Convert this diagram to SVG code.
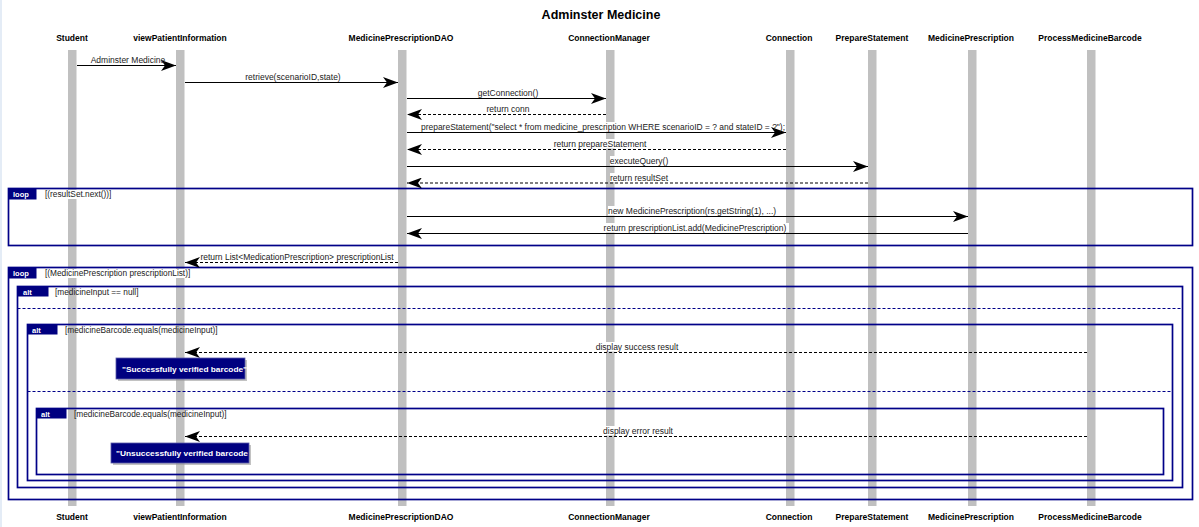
<svg xmlns="http://www.w3.org/2000/svg" width="1199" height="527" viewBox="0 0 1199 527">
<style>
.title{font-family:"Liberation Sans",Arial,sans-serif;font-size:12.5px;font-weight:bold;fill:#000}
.actor{font-family:"Liberation Sans",Arial,sans-serif;font-size:8.5px;font-weight:bold;fill:#000;text-anchor:middle}
.lbl{font-family:"Liberation Sans",Arial,sans-serif;font-size:8.5px;fill:#222;text-anchor:middle}
.guard{font-family:"Liberation Sans",Arial,sans-serif;font-size:8.3px;fill:#222}
.tab{font-family:"Liberation Sans",Arial,sans-serif;font-size:7.5px;font-weight:bold;fill:#fff}
.note{font-family:"Liberation Sans",Arial,sans-serif;font-size:7.4px;font-weight:bold;fill:#fff}
.life{fill:#c0c0c0}
.frame{fill:none;stroke:#000088;stroke-width:1.7}
.sep{fill:none;stroke:#000088;stroke-width:1.2;stroke-dasharray:3,2}
.tabbox{fill:#000080}
.msg{stroke:#000;stroke-width:1.2;fill:none;marker-end:url(#arr)}
.ret{stroke:#000;stroke-width:1.2;fill:none;stroke-dasharray:3,2;marker-end:url(#arr)}
.bg{fill:#fff}
.nbox{fill:#000080;stroke:#5a5aa8;stroke-width:0.8}
.nshadow{fill:#9a9a9a;opacity:0.6}
</style>
<defs>
<marker id="arr" markerUnits="userSpaceOnUse" markerWidth="15" markerHeight="11" refX="15" refY="5.5" orient="auto">
<path d="M0,0 L15,5.5 L0,11 L4,5.5 z" fill="#000"/>
</marker>
</defs>
<rect x="0" y="0" width="1199" height="527" fill="#fff"/>
<rect x="0" y="0" width="2" height="527" fill="#e4ecf6"/>
<text class="title" x="601" y="19" text-anchor="middle">Adminster Medicine</text>

<g id="lifelines">
<g id="Student"><text class="actor" x="72" y="41">Student</text><rect class="life" x="68" y="50" width="8.5" height="456"/><text class="actor" x="72" y="520">Student</text></g>
<g id="viewPatientInformation"><text class="actor" x="180" y="41">viewPatientInformation</text><rect class="life" x="176" y="50" width="8.5" height="456"/><text class="actor" x="180" y="520">viewPatientInformation</text></g>
<g id="MedicinePrescriptionDAO"><text class="actor" x="401" y="41">MedicinePrescriptionDAO</text><rect class="life" x="398" y="50" width="8.5" height="456"/><text class="actor" x="401" y="520">MedicinePrescriptionDAO</text></g>
<g id="ConnectionManager"><text class="actor" x="609" y="41">ConnectionManager</text><rect class="life" x="606" y="50" width="8.5" height="456"/><text class="actor" x="609" y="520">ConnectionManager</text></g>
<g id="Connection"><text class="actor" x="789" y="41">Connection</text><rect class="life" x="786" y="50" width="8.5" height="456"/><text class="actor" x="789" y="520">Connection</text></g>
<g id="PrepareStatement"><text class="actor" x="872" y="41">PrepareStatement</text><rect class="life" x="868" y="50" width="8.5" height="456"/><text class="actor" x="872" y="520">PrepareStatement</text></g>
<g id="MedicinePrescription"><text class="actor" x="971" y="41">MedicinePrescription</text><rect class="life" x="968" y="50" width="8.5" height="456"/><text class="actor" x="971" y="520">MedicinePrescription</text></g>
<g id="ProcessMedicineBarcode"><text class="actor" x="1090" y="41">ProcessMedicineBarcode</text><rect class="life" x="1087" y="50" width="8.5" height="456"/><text class="actor" x="1090" y="520">ProcessMedicineBarcode</text></g>
</g>

<g id="frames">
<g id="loop1">
<rect class="frame" x="8.5" y="188.5" width="1184" height="57"/>
<rect class="tabbox" x="8.5" y="188.5" width="28" height="11"/>
<text class="tab" x="13" y="197">loop</text>
<rect class="bg" x="44" y="190" width="71" height="9"/>
<text class="guard" x="45" y="197">[(resultSet.next())]</text>
</g>
<g id="loop2">
<rect class="frame" x="8.5" y="267.5" width="1184" height="232"/>
<rect class="tabbox" x="8.5" y="267.5" width="28" height="11"/>
<text class="tab" x="13" y="276">loop</text>
<rect class="bg" x="44" y="269" width="154" height="9"/>
<text class="guard" x="45" y="276">[(MedicinePrescription prescriptionList)]</text>
</g>
<g id="alt1">
<rect class="frame" x="17.5" y="286.5" width="1165" height="201"/>
<rect class="tabbox" x="17.5" y="286.5" width="31" height="10"/>
<text class="tab" x="23" y="294.5">alt</text>
<text class="guard" x="55" y="294.5">[medicineInput == null]</text>
<line class="sep" x1="17.5" y1="308.5" x2="1182.5" y2="308.5"/>
</g>
<g id="alt2">
<rect class="frame" x="27.5" y="324.5" width="1145" height="156"/>
<rect class="tabbox" x="27.5" y="324.5" width="30" height="10"/>
<text class="tab" x="32" y="332.5">alt</text>
<text class="guard" x="65" y="332.5">[medicineBarcode.equals(medicineInput)]</text>
<line class="sep" x1="27.5" y1="391.5" x2="1172.5" y2="391.5"/>
</g>
<g id="alt3">
<rect class="frame" x="36.5" y="408.5" width="1127" height="66"/>
<rect class="tabbox" x="36.5" y="408.5" width="30" height="10"/>
<text class="tab" x="41" y="416.5">alt</text>
<text class="guard" x="74" y="416.5">[medicineBarcode.equals(medicineInput)]</text>
</g>
</g>

<g id="connectors">
<line class="msg" x1="77" y1="65.5" x2="176" y2="65.5"/>
<line class="msg" x1="185" y1="82.5" x2="398" y2="82.5"/>
<line class="msg" x1="407" y1="98.5" x2="606" y2="98.5"/>
<line class="ret" x1="606" y1="114.5" x2="407" y2="114.5"/>
<line class="msg" x1="407" y1="132.5" x2="786" y2="132.5"/>
<line class="ret" x1="786" y1="149.5" x2="407" y2="149.5"/>
<line class="msg" x1="407" y1="166.5" x2="868" y2="166.5"/>
<line class="ret" x1="868" y1="183" x2="407" y2="183"/>
<line class="msg" x1="407" y1="216.5" x2="968" y2="216.5"/>
<line class="msg" x1="968" y1="233.5" x2="407" y2="233.5"/>
<line class="ret" x1="398" y1="262.5" x2="185" y2="262.5"/>
<line class="ret" x1="1087" y1="352.5" x2="185" y2="352.5"/>
<line class="ret" x1="1087" y1="436.5" x2="185" y2="436.5"/>
</g>

<g id="labels">
<text class="lbl" x="128" y="62.5">Adminster Medicine</text>
<text class="lbl" x="293" y="79.5">retrieve(scenarioID,state)</text>
<text class="lbl" x="508" y="95.5">getConnection()</text>
<text class="lbl" x="508" y="112">return conn</text>
<rect class="bg" x="604" y="122" width="12" height="9.5"/>
<text class="lbl" x="603" y="129.5" textLength="364" lengthAdjust="spacingAndGlyphs">prepareStatement("select * from medicine_prescription WHERE scenarioID = ? and stateID = ?");</text>
<rect class="bg" x="604" y="139" width="12" height="9.5"/>
<text class="lbl" x="600" y="146.5">return prepareStatement</text>
<rect class="bg" x="610" y="156" width="58" height="9.5"/>
<text class="lbl" x="639" y="163.5">executeQuery()</text>
<rect class="bg" x="610" y="173" width="60" height="9"/>
<text class="lbl" x="639" y="180.5">return resultSet</text>
<rect class="bg" x="608" y="206" width="168" height="9.5"/>
<text class="lbl" x="692" y="213.5">new MedicinePrescription(rs.getString(1), ...)</text>
<rect class="bg" x="602" y="223" width="187" height="9.5"/>
<text class="lbl" x="695" y="230.5">return prescriptionList.add(MedicinePrescription)</text>
<text class="lbl" x="297" y="259.5">return List&lt;MedicationPrescription&gt; prescriptionList</text>
<rect class="bg" x="596" y="342" width="82" height="9.5"/>
<text class="lbl" x="637" y="349.5">display success result</text>
<rect class="bg" x="604" y="426" width="68" height="9.5"/>
<text class="lbl" x="638" y="433.5">display error result</text>
</g>

<g id="note1">
<rect class="nshadow" x="118" y="360" width="129" height="21"/>
<rect class="nbox" x="116" y="358" width="129" height="21"/>
<text class="note" x="122" y="371.5" textLength="125" lengthAdjust="spacingAndGlyphs">"Successfully verified barcode"</text>
</g>
<g id="note2">
<rect class="nshadow" x="113" y="445" width="138" height="20"/>
<rect class="nbox" x="111" y="443" width="138" height="20"/>
<text class="note" x="116" y="456" textLength="132" lengthAdjust="spacingAndGlyphs">"Unsuccessfully verified barcode</text>
</g>
</svg>
